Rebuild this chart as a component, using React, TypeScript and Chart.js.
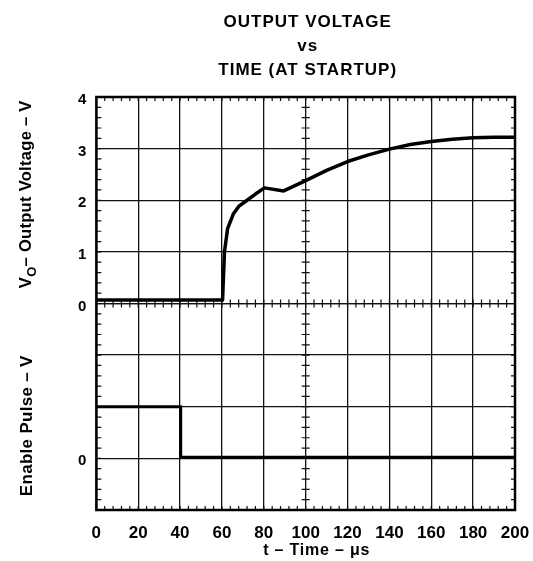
import React, { useEffect, useRef } from 'react';
import { Chart, registerables } from 'chart.js';

Chart.register(...registerables);

// ---- text ----
const titleLines = ['OUTPUT VOLTAGE', 'vs', 'TIME (AT STARTUP)'];
const xTitle = 't – Time – μs';
const yOutTitleMain = 'V';
const yOutTitleSub = 'O';
const yOutTitleRest = '– Output Voltage – V';
const yEnTitle = 'Enable Pulse – V';

// ---- axes ----
const timeRange = [0, 200];
const timeStep = 20;
const outRange = [0, 4];
const enRange = [-1, 3];
const enLabelValues = [0];

// ---- data: output voltage trace (V) ----
const outTime = [0, 60.3, 61.2, 62.7, 65.5, 68, 72, 76, 80.3, 89.5, 100, 110, 120, 130, 140, 150, 160, 170, 180, 190, 200];
const outVolts = [0.07, 0.07, 1.0, 1.45, 1.74, 1.88, 2.0, 2.12, 2.24, 2.18, 2.38, 2.58, 2.75, 2.88, 2.99, 3.08, 3.14, 3.18, 3.21, 3.22, 3.22];

// ---- data: enable pulse trace (divisions, 0 = low) ----
const enTime = [0, 40.3, 40.3, 200];
const enLevel = [1.0, 1.0, 0.02, 0.02];

const FONT = '"Liberation Sans", Arial, Helvetica, sans-serif';

const graticule = {
  id: 'graticule',
  beforeDatasetsDraw(chart: any) {
    const { ctx, chartArea } = chart;
    const x = chart.scales.x;
    const yo = chart.scales.yOut;
    const ye = chart.scales.yEn;
    const { left, right, top, bottom } = chartArea;
    const mid = yo.getPixelForValue(outRange[0]);
    const cx = x.getPixelForValue((timeRange[0] + timeRange[1]) / 2);
    ctx.save();
    ctx.strokeStyle = '#111';
    ctx.lineWidth = 1.2;
    ctx.beginPath();
    const nx = (timeRange[1] - timeRange[0]) / timeStep * 5;
    for (let i = 1; i < nx; i++) {
      const t = timeRange[0] + (i * timeStep) / 5;
      const px = x.getPixelForValue(t);
      ctx.moveTo(px, top); ctx.lineTo(px, top + 4);
      ctx.moveTo(px, bottom - 4); ctx.lineTo(px, bottom);
      ctx.moveTo(px, mid - 4); ctx.lineTo(px, mid + 4);
    }
    const addY = (scale: any, lo: number, hi: number) => {
      const n = (hi - lo) * 5;
      for (let k = 1; k < n; k++) {
        const py = scale.getPixelForValue(lo + k / 5);
        ctx.moveTo(left, py); ctx.lineTo(left + 5, py);
        ctx.moveTo(right - 4, py); ctx.lineTo(right, py);
        ctx.moveTo(cx - 4, py); ctx.lineTo(cx + 4, py);
      }
    };
    addY(yo, outRange[0], outRange[1]);
    addY(ye, enRange[0], enRange[1]);
    ctx.stroke();
    ctx.lineWidth = 2.5;
    ctx.strokeStyle = '#000';
    ctx.strokeRect(left, top, right - left, bottom - top);
    ctx.restore();
  },
  afterDraw(chart: any) {
    const { ctx, chartArea } = chart;
    const yo = chart.scales.yOut;
    const ye = chart.scales.yEn;
    ctx.save();
    ctx.fillStyle = '#000';
    // main title
    ctx.font = `bold 17px ${FONT}`;
    (ctx as any).letterSpacing = '1px';
    ctx.textAlign = 'center';
    ctx.textBaseline = 'alphabetic';
    const tcx = (chartArea.left + chartArea.right) / 2 + 2;
    titleLines.forEach((line, i) => ctx.fillText(line, tcx, 27 + i * 24));
    // x title
    ctx.font = `bold 16px ${FONT}`;
    (ctx as any).letterSpacing = '0.8px';
    ctx.fillText(xTitle, tcx + 9, 555);
    // y titles (rotated)
    (ctx as any).letterSpacing = '0.3px';
    const mainFont = `bold 16.5px ${FONT}`;
    const subFont = `bold 13px ${FONT}`;
    ctx.font = mainFont;
    const wV = ctx.measureText(yOutTitleMain).width;
    const wRest = ctx.measureText(yOutTitleRest).width;
    ctx.font = subFont;
    const wSub = ctx.measureText(yOutTitleSub).width;
    const total = wV + wSub + wRest;
    const cyOut = (yo.top + yo.bottom) / 2 - 6;
    ctx.save();
    ctx.translate(31, cyOut);
    ctx.rotate(-Math.PI / 2);
    ctx.textAlign = 'left';
    let px = -total / 2;
    ctx.font = mainFont;
    ctx.fillText(yOutTitleMain, px, 0);
    px += wV;
    ctx.font = subFont;
    ctx.fillText(yOutTitleSub, px, 5);
    px += wSub;
    ctx.font = mainFont;
    ctx.fillText(yOutTitleRest, px, 0);
    ctx.restore();

    ctx.save();
    ctx.translate(32, (ye.top + ye.bottom) / 2 + 19);
    ctx.rotate(-Math.PI / 2);
    ctx.textAlign = 'center';
    ctx.font = `bold 17px ${FONT}`;
    ctx.fillText(yEnTitle, 0, 0);
    ctx.restore();
    ctx.restore();
  },
};

export default function App() {
  const ref = useRef<HTMLCanvasElement | null>(null);
  useEffect(() => {
    document.body.style.margin = '0';
    const canvas = ref.current;
    if (!canvas) return;
    Chart.defaults.font.family = FONT;
    Chart.defaults.color = '#000';
    const gridCommon = { color: '#111', lineWidth: 1.3, drawTicks: false };
    const chart = new Chart(canvas, {
      type: 'line',
      data: {
        datasets: [
          {
            label: 'Output Voltage',
            data: outTime.map((t, i) => ({ x: t, y: outVolts[i] })),
            yAxisID: 'yOut',
            borderColor: '#000',
            borderWidth: 3.5,
            pointRadius: 0,
            tension: 0,
            fill: false,
            borderJoinStyle: 'round',
          },
          {
            label: 'Enable Pulse',
            data: enTime.map((t, i) => ({ x: t, y: enLevel[i] })),
            yAxisID: 'yEn',
            borderColor: '#000',
            borderWidth: 3,
            pointRadius: 0,
            tension: 0,
            fill: false,
          },
        ],
      },
      options: {
        animation: false,
        responsive: false,
        layout: { padding: { top: 97, left: 68, right: 18, bottom: 17.6 } },
        plugins: { legend: { display: false }, title: { display: false }, tooltip: { enabled: false } },
        scales: {
          x: {
            type: 'linear',
            min: timeRange[0],
            max: timeRange[1],
            ticks: { stepSize: timeStep, padding: 0, font: { size: 17, weight: 'bold' } },
            grid: { color: '#111', lineWidth: 1.3, drawTicks: true, tickLength: 13, tickColor: 'rgba(0,0,0,0)' },
            border: { display: false },
          },
          yEn: {
            type: 'linear',
            position: 'left',
            stack: 'v',
            stackWeight: 1,
            min: enRange[0],
            max: enRange[1],
            ticks: {
              stepSize: 1,
              padding: 10,
              labelOffset: 2,
              font: { size: 15, weight: 'bold' },
              callback: (v: any) => (enLabelValues.includes(Number(v)) ? String(v) : ''),
            },
            grid: gridCommon,
            border: { display: false },
          },
          yOut: {
            type: 'linear',
            position: 'left',
            stack: 'v',
            stackWeight: 1,
            min: outRange[0],
            max: outRange[1],
            ticks: { stepSize: 1, padding: 10, labelOffset: 3, font: { size: 15, weight: 'bold' }, callback: (v: any) => String(v) },
            grid: gridCommon,
            border: { display: false },
          },
        },
      } as any,
      plugins: [graticule],
    });
    return () => chart.destroy();
  }, []);
  return <canvas ref={ref} width={533} height={561} style={{ display: 'block' }} />;
}
